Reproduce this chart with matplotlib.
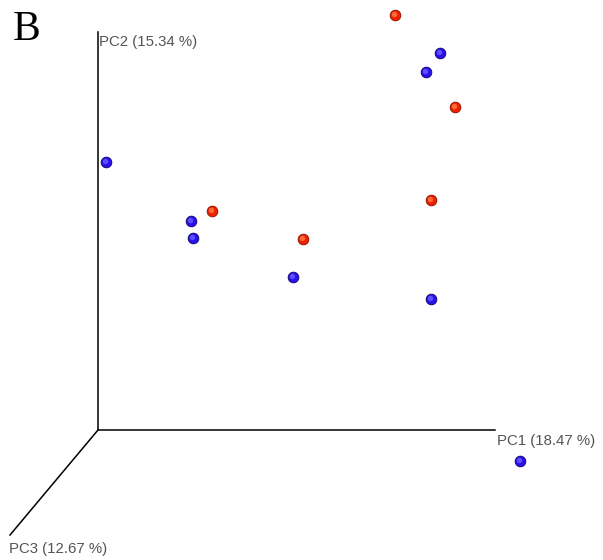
import matplotlib.pyplot as plt

# projected PCoA positions (as drawn in the 3D view)
red_x = [395, 455, 431, 212, 303]
red_y = [15, 107, 200, 211, 239]
blue_x = [440, 426, 106, 191, 193, 293, 431, 520]
blue_y = [53, 72, 162, 221, 238, 277, 299, 461]

origin = (98, 430)
axis_ends = {'PC1': (495, 430), 'PC2': (98, 32), 'PC3': (10, 535)}
axis_labels = ['PC1 (18.47 %)', 'PC2 (15.34 %)', 'PC3 (12.67 %)']

fig = plt.figure(figsize=(6.03, 5.60), dpi=100)
ax = fig.add_axes([0, 0, 1, 1])
ax.set_xlim(0, 603)
ax.set_ylim(560, 0)
ax.axis('off')

for key in ['PC1', 'PC2', 'PC3']:
    ex, ey = axis_ends[key]
    ax.plot([origin[0], ex], [origin[1], ey], color='black', lw=1.1)

lab = dict(fontsize=10.8, color='#555555', va='center', ha='left', family='Liberation Sans')
ax.text(497, 441, axis_labels[0], **lab)
ax.text(99, 42, axis_labels[1], **lab)
ax.text(9, 549, axis_labels[2], **lab)

# spheres: base marker + small highlight
ax.scatter(red_x, red_y, s=58, color='#ee2200', edgecolors='#991100', linewidths=0.7, zorder=3)
ax.scatter([x - 1 for x in red_x], [y - 1 for y in red_y], s=15, color='#ff6a3a', linewidths=0, zorder=4)
ax.scatter(blue_x, blue_y, s=58, color='#2a10ee', edgecolors='#15087a', linewidths=0.7, zorder=3)
ax.scatter([x - 1 for x in blue_x], [y - 1 for y in blue_y], s=15, color='#5a50ff', linewidths=0, zorder=4)

ax.text(13, 30, 'B', fontsize=30, family='Liberation Serif', va='center', ha='left')

fig.savefig('out.png', dpi=100)
